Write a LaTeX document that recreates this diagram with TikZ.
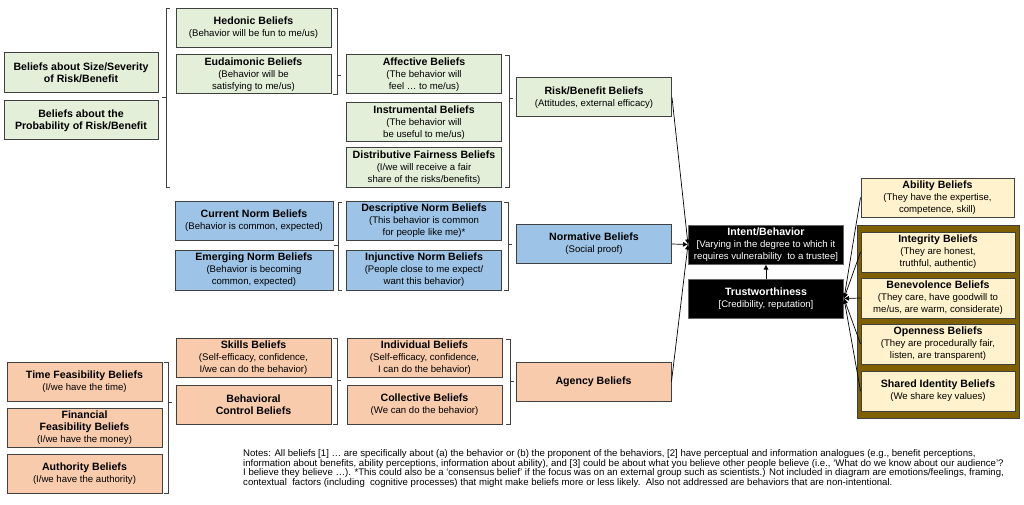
\documentclass[tikz,border=0pt]{standalone}
\usepackage{fontspec}
\setmainfont{Liberation Sans}
\usetikzlibrary{arrows.meta}
\definecolor{gfill}{HTML}{E4EFDA}
\definecolor{bfill}{HTML}{9DC3E6}
\definecolor{ofill}{HTML}{F8CBAD}
\definecolor{yfill}{HTML}{FFF2CC}
\definecolor{brownc}{HTML}{7F6000}
\definecolor{edge}{HTML}{404040}
\newcommand{\T}[1]{{\fontsize{10.6}{12.5}\selectfont\bfseries #1}}
\tikzset{
  basebox/.style={draw=edge, line width=1pt, minimum width=155pt, minimum height=39pt,
    inner sep=1pt, align=center, font=\fontsize{9.6}{12}\selectfont},
  gbox/.style={basebox, fill=gfill},
  bbox/.style={basebox, fill=bfill},
  obox/.style={basebox, fill=ofill},
  ybox/.style={basebox, fill=yfill},
  kbox/.style={basebox, fill=black, draw=black!60, text=white},
  brk/.style={draw=edge, line width=0.7pt},
  arr/.style={draw=black, line width=0.7pt, -{Latex[length=5pt,width=5pt]}},
}
\begin{document}
\begin{tikzpicture}[x=1pt,y=-1pt]
\useasboundingbox[fill=white] (0,0) rectangle (1024,505);
% ---------- Risk/Benefit section ----------
\node[gbox, minimum width=154pt, minimum height=40pt] (size) at (81,73) {\T{Beliefs about Size/Severity}\\\T{of Risk/Benefit}};
\node[gbox, minimum width=154pt] (prob) at (81,120.5) {\T{Beliefs about the}\\\T{Probability of Risk/Benefit}};
\node[gbox] (hed) at (253.5,28) {\T{Hedonic Beliefs}\\(Behavior will be fun to me/us)};
\node[gbox] (eud) at (253.5,74.5) {\T{Eudaimonic Beliefs}\\(Behavior will be\\satisfying to me/us)};
\node[gbox] (aff) at (424,74.5) {\T{Affective Beliefs}\\(The behavior will\\feel \dots\ to me/us)};
\node[gbox] (ins) at (424,122.5) {\T{Instrumental Beliefs}\\(The behavior will\\be useful to me/us)};
\node[gbox] (dis) at (424,167.5) {\T{Distributive Fairness Beliefs}\\(I/we will receive a fair\\share of the risks/benefits)};
\node[gbox] (rb) at (594,97.5) {\T{Risk/Benefit Beliefs}\\(Attitudes, external efficacy)};
% ---------- Normative section ----------
\node[bbox, minimum width=158pt] (cur) at (254,221) {\T{Current Norm Beliefs}\\(Behavior is common, expected)};
\node[bbox, minimum width=158pt, minimum height=40pt] (emg) at (254,270) {\T{Emerging Norm Beliefs}\\(Behavior is becoming\\common, expected)};
\node[bbox] (des) at (424,221) {\T{Descriptive Norm Beliefs}\\(This behavior is common\\for people like me)*};
\node[bbox, minimum height=40pt] (inj) at (424,270) {\T{Injunctive Norm Beliefs}\\(People close to me expect/\\want this behavior)};
\node[bbox] (norm) at (594,244) {\T{Normative Beliefs}\\(Social proof)};
% ---------- Centre ----------
\node[kbox] (intent) at (766,244.5) {\T{Intent/Behavior}\\{}[Varying in the degree to which it\\requires vulnerability\ \ to a trustee]};
\node[kbox] (trust) at (766,298.5) {\T{Trustworthiness}\\{}[Credibility, reputation]};
% ---------- Trust beliefs ----------
\node[ybox, minimum width=153pt] (abil) at (937.5,197.5) {\T{Ability Beliefs}\\(They have the expertise,\\competence, skill)};
\node[draw=edge, line width=0.7pt, fill=brownc, minimum width=162pt, minimum height=193pt, inner sep=0pt] (tcont) at (938,321.5) {};
\node[ybox, minimum width=154pt, minimum height=40pt] (integ) at (938,252) {\T{Integrity Beliefs}\\(They are honest,\\truthful,\ authentic)};
\node[ybox, minimum width=154pt, minimum height=40pt] (benev) at (938,298) {\T{Benevolence Beliefs}\\(They care, have goodwill to\\me/us, are warm, considerate)};
\node[ybox, minimum width=154pt, minimum height=40pt] (open) at (938,344) {\T{Openness Beliefs}\\(They are procedurally fair,\\listen, are transparent)};
\node[ybox, minimum width=154pt, minimum height=40pt] (shared) at (938,391) {\T{Shared Identity Beliefs}\\(We share key values)};
% ---------- Agency section ----------
\node[obox] (time) at (84.5,381.5) {\T{Time Feasibility Beliefs}\\(I/we have the time)};
\node[obox] (fin) at (84.5,427.5) {\T{Financial}\\\T{Feasibility Beliefs}\\(I/we have the money)};
\node[obox] (auth) at (84.5,473.5) {\T{Authority Beliefs}\\(I/we have the authority)};
\node[obox] (skills) at (253.5,357.5) {\T{Skills Beliefs}\\(Self-efficacy, confidence,\\I/we can do the behavior)};
\node[obox] (behav) at (253.5,404.5) {\T{Behavioral}\\\T{Control Beliefs}};
\node[obox] (indiv) at (424.5,358) {\T{Individual Beliefs}\\(Self-efficacy, confidence,\\I can do the behavior)};
\node[obox] (coll) at (424.5,405) {\T{Collective Beliefs}\\(We can do the behavior)};
\node[obox] (agency) at (593.5,381.5) {\T{Agency Beliefs}};
% ---------- Brackets ----------
\draw[brk] (170,8) -- (166,8) -- (166,187) -- (170,187) (166,97) -- (162,97);
\draw[brk] (333,8) -- (337,8) -- (337,94) -- (333,94) (337,75) -- (341,75);
\draw[brk] (505,55) -- (509,55) -- (509,187) -- (505,187) (509,98) -- (513,98);
\draw[brk] (342,202) -- (338,202) -- (338,290) -- (342,290) (338,245) -- (334,245);
\draw[brk] (504,202) -- (508,202) -- (508,290) -- (504,290) (508,244) -- (512,244);
\draw[brk] (164,362) -- (168,362) -- (168,493) -- (164,493) (168,402) -- (172,402);
\draw[brk] (333,338) -- (337,338) -- (337,424) -- (333,424) (337,380) -- (341,380);
\draw[brk] (506,339) -- (510,339) -- (510,424) -- (506,424) (510,381) -- (514,381);
% ---------- Connectors ----------
\draw[arr] (rb.east) -- (intent.west);
\draw[arr] (norm.east) -- (intent.west);
\draw[arr] (agency.east) -- (intent.west);
\draw[arr] (trust.north) -- (intent.south);
\draw[arr] (abil.west) -- (trust.east);
\draw[arr] (integ.west) -- (trust.east);
\draw[arr] (benev.west) -- (trust.east);
\draw[arr] (open.west) -- (trust.east);
\draw[arr] (shared.west) -- (trust.east);
% ---------- Notes ----------
\node[anchor=north west, align=left, inner sep=0pt, font=\fontsize{9.6}{9.9}\selectfont] (notes) at (243,449) {%
Notes: All beliefs [1] \dots\ are specifically about (a) the behavior or (b) the proponent of the behaviors, [2] have perceptual and information analogues (e.g., benefit perceptions,\\
information about benefits, ability perceptions, information about ability), and [3] could be about what you believe other people believe (i.e., ‘What do we know about our audience’?\\
I believe they believe \dots). *This could also be a ‘consensus belief’ if the focus was on an external group such as scientists.) Not included in diagram are emotions/feelings, framing,\\
contextual\ \ factors (including\ \ cognitive processes) that might make beliefs more or less likely.\ \ Also not addressed are behaviors that are non-intentional.};
\end{tikzpicture}
\end{document}
